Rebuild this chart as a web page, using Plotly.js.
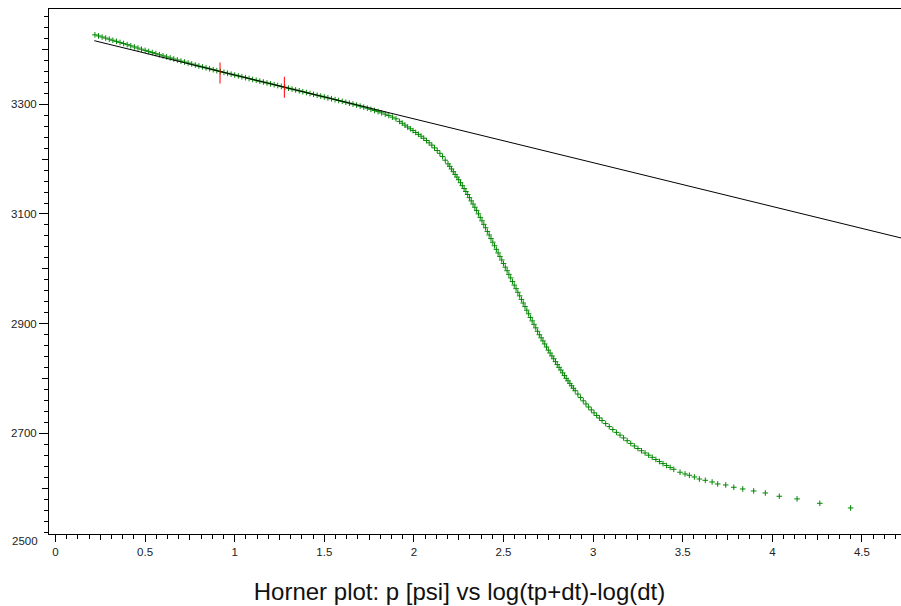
<!DOCTYPE html>
<html>
<head>
<meta charset="utf-8">
<script src="https://cdn.plot.ly/plotly-3.0.1.min.js"></script>
<style>html,body{margin:0;padding:0;background:#fff;}#chart{width:901px;height:606px;}</style>
</head>
<body>
<div id="chart"></div>
<script>
// Horner plot data: x = log(tp+dt)-log(dt), p in psi
const hornerX_late = [0.22,0.24,0.26,0.28,0.30,0.32,0.34,0.36,0.38,0.40,0.42,0.44,0.46,0.48,0.50,0.52,0.54,0.56,0.58,0.60,0.62,0.64,0.66,0.68,0.70,0.72,0.74,0.76,0.78,0.80,0.82,0.84,0.86,0.88,0.90,0.92,0.94,0.96,0.98,1.00,1.02,1.04,1.06,1.08,1.10,1.12,1.14,1.16,1.18,1.20,1.22,1.24,1.26,1.28,1.30,1.32,1.34,1.36,1.38,1.40,1.42,1.44,1.46,1.48,1.50,1.52,1.54,1.56,1.58,1.60,1.62,1.64,1.66,1.68,1.70,1.72,1.74,1.76,1.78,1.80,1.82,1.84,1.86,1.88,1.90];
const hornerP_late = [3426.6,3424.6,3422.6,3420.7,3418.7,3416.7,3414.7,3412.7,3410.7,3408.7,3406.6,3404.5,3402.5,3400.4,3398.3,3396.3,3394.3,3392.3,3390.3,3388.3,3386.4,3384.5,3382.6,3380.7,3378.8,3377.0,3375.2,3373.4,3371.6,3369.8,3368.1,3366.4,3364.7,3363.0,3361.3,3359.7,3358.1,3356.5,3354.9,3353.3,3351.7,3350.1,3348.5,3346.9,3345.3,3343.7,3342.1,3340.5,3338.9,3337.3,3335.7,3334.1,3332.5,3330.9,3329.3,3327.7,3326.1,3324.5,3322.9,3321.3,3319.7,3318.1,3316.5,3314.9,3313.3,3311.7,3310.1,3308.5,3306.9,3305.3,3303.7,3302.0,3300.3,3298.5,3296.6,3294.8,3292.9,3290.8,3288.7,3286.6,3284.4,3282.0,3279.4,3276.5,3273.4];

const hornerX_bend = [1.92,1.935,1.95,1.965,1.98,1.995,2.01,2.025,2.04,2.055,2.07,2.085,2.10,2.115,2.13,2.145,2.16,2.175,2.19];
const hornerP_bend = [3268.8,3265.4,3261.9,3258.6,3255.3,3252.0,3248.6,3245.2,3241.8,3238.1,3233.9,3229.7,3225.5,3220.5,3215.6,3210.6,3204.6,3198.0,3191.4];

const hornerX_drop = [2.20,2.21,2.22,2.23,2.24,2.25,2.26,2.27,2.28,2.29,2.30,2.31,2.32,2.33,2.34,2.35,2.36,2.37,2.38,2.39,2.40,2.41,2.42,2.43,2.44,2.45,2.46,2.47,2.48,2.49,2.50,2.51,2.52,2.53,2.54,2.55,2.56,2.57,2.58,2.59,2.60,2.61,2.62,2.63,2.64,2.65,2.66,2.67,2.68,2.69,2.70,2.71,2.72,2.73,2.74,2.75,2.76,2.77,2.78,2.79,2.80,2.81,2.82,2.83,2.84,2.85,2.86,2.87,2.88,2.89,2.90];
const hornerP_drop = [3186.9,3182.0,3177.1,3172.2,3167.3,3162.4,3157.0,3151.6,3146.3,3140.9,3135.5,3129.7,3123.9,3118.1,3112.3,3106.5,3100.2,3093.8,3087.5,3081.1,3074.8,3068.2,3061.7,3055.1,3048.6,3042.0,3035.5,3029.0,3022.6,3016.1,3009.6,3003.0,2996.5,2989.9,2983.4,2976.8,2970.3,2963.8,2957.2,2950.7,2944.2,2937.6,2931.1,2924.5,2918.0,2911.4,2905.1,2898.8,2892.4,2886.1,2879.8,2874.2,2868.6,2863.0,2857.4,2851.8,2846.5,2841.2,2836.0,2830.7,2825.4,2820.4,2815.4,2810.3,2805.3,2800.3,2795.8,2791.2,2786.7,2782.2,2777.7];

const hornerX_early = [2.915,2.93,2.945,2.96,2.975,2.99,3.005,3.02,3.035,3.05,3.07,3.09,3.11,3.13,3.15,3.17,3.19,3.21,3.23,3.25,3.27,3.29,3.31,3.33,3.35,3.37,3.39,3.41,3.43,3.45];
const hornerP_early = [2771.6,2765.5,2759.3,2753.6,2748.1,2742.7,2737.4,2732.7,2728.1,2723.4,2717.8,2712.3,2706.9,2701.8,2696.8,2691.7,2686.6,2681.7,2677.0,2672.4,2668.3,2664.2,2660.2,2656.3,2652.4,2648.6,2644.9,2641.3,2637.9,2634.5];

const hornerX_first = [3.485,3.513,3.537,3.565,3.593,3.626,3.664,3.695,3.740,3.785,3.835,3.896,3.961,4.039,4.138,4.265,4.437];
const hornerP_first = [2629.1,2626.0,2623.6,2620.5,2616.8,2614.4,2611.3,2607.7,2605.9,2601.7,2598.6,2595.0,2591.3,2585.3,2580.5,2572.5,2564.0];

// straight-line fit (semi-log straight line)
const fitX = [0.2165, 4.72];
const fitP = [3415.9, 3056.1];

// selected fit interval bounds (red markers)
const selX = [0.918, 1.277];
const selP = [3357, 3331];

// axis ticks
const xMajorStep = 0.5;
const yMajorStep = 200;
const bottomLabel = '2500';

const hornerX = [].concat(hornerX_late, hornerX_bend, hornerX_drop, hornerX_early, hornerX_first);
const hornerP = [].concat(hornerP_late, hornerP_bend, hornerP_drop, hornerP_early, hornerP_first);

const FONT = 'Liberation Sans, Arial, sans-serif';
const xRange = [-0.0363, 4.718];
const yRange = [2516.5, 3473.7];
const tickFont = {family: FONT, size: 11.5, color: '#222'};

const traces = [
  {
    x: hornerX, y: hornerP, type: 'scatter', mode: 'markers',
    marker: {symbol: 'cross-thin-open', size: 4, color: 'rgb(0,135,0)', line: {color: 'rgb(0,135,0)', width: 1}},
    hoverinfo: 'skip'
  },
  {
    x: fitX, y: fitP, type: 'scatter', mode: 'lines',
    line: {color: '#000', width: 1}, hoverinfo: 'skip'
  },
  {
    x: selX, y: selP, type: 'scatter', mode: 'markers',
    marker: {symbol: 'line-ns-open', size: 15, color: 'rgb(255,0,0)', line: {color: 'rgb(255,0,0)', width: 1}},
    hoverinfo: 'skip'
  },
  { x: [], y: [], xaxis: 'x2', yaxis: 'y2', type: 'scatter', mode: 'markers', hoverinfo: 'skip' }
];

const layout = {
  width: 901, height: 606,
  margin: {l: 49, r: 0, t: 9, b: 72, pad: 0},
  paper_bgcolor: '#fff', plot_bgcolor: '#fff',
  showlegend: false,
  font: {family: FONT, color: '#222'},
  title: {
    text: 'Horner plot: p [psi] vs log(tp+dt)-log(dt)',
    font: {family: FONT, size: 24, color: '#111'},
    xref: 'container', x: 0.51, xanchor: 'center',
    yref: 'container', y: 0.0236, yanchor: 'middle'
  },
  xaxis: {
    range: xRange, tick0: 0, dtick: xMajorStep,
    ticks: 'outside', ticklen: 7, tickwidth: 1, tickcolor: '#000',
    showline: true, linecolor: '#000', linewidth: 1, mirror: true,
    showgrid: false, zeroline: false, tickfont: tickFont,
    minor: {tick0: 0, dtick: 0.0625, ticks: 'outside', ticklen: 4, tickwidth: 1, tickcolor: '#000', showgrid: false}
  },
  xaxis2: {
    overlaying: 'x', anchor: 'y', side: 'bottom', range: xRange,
    tick0: 0.25, dtick: xMajorStep, ticks: 'outside', ticklen: 5, tickwidth: 1, tickcolor: '#000',
    showticklabels: false, showline: false, showgrid: false, zeroline: false
  },
  yaxis: {
    range: yRange, tick0: 2500, dtick: yMajorStep,
    ticks: 'outside', ticklen: 9, tickwidth: 1, tickcolor: '#000',
    showline: true, linecolor: '#000', linewidth: 1, mirror: false,
    showgrid: false, zeroline: false, tickfont: tickFont,
    minor: {tick0: 2500, dtick: 20, ticks: 'outside', ticklen: 4, tickwidth: 1, tickcolor: '#000', showgrid: false}
  },
  yaxis2: {
    overlaying: 'y', anchor: 'x', side: 'left', range: yRange,
    tick0: 2600, dtick: yMajorStep, ticks: 'outside', ticklen: 6, tickwidth: 1, tickcolor: '#000',
    showticklabels: false, showline: false, showgrid: false, zeroline: false
  },
  annotations: [{
    text: bottomLabel, xref: 'paper', yref: 'paper', x: -0.0117, y: -0.0133,
    xanchor: 'right', yanchor: 'middle', showarrow: false, font: tickFont, borderpad: 0
  }]
};

Plotly.newPlot('chart', traces, layout, {displayModeBar: false, staticPlot: true});
</script>
</body>
</html>
